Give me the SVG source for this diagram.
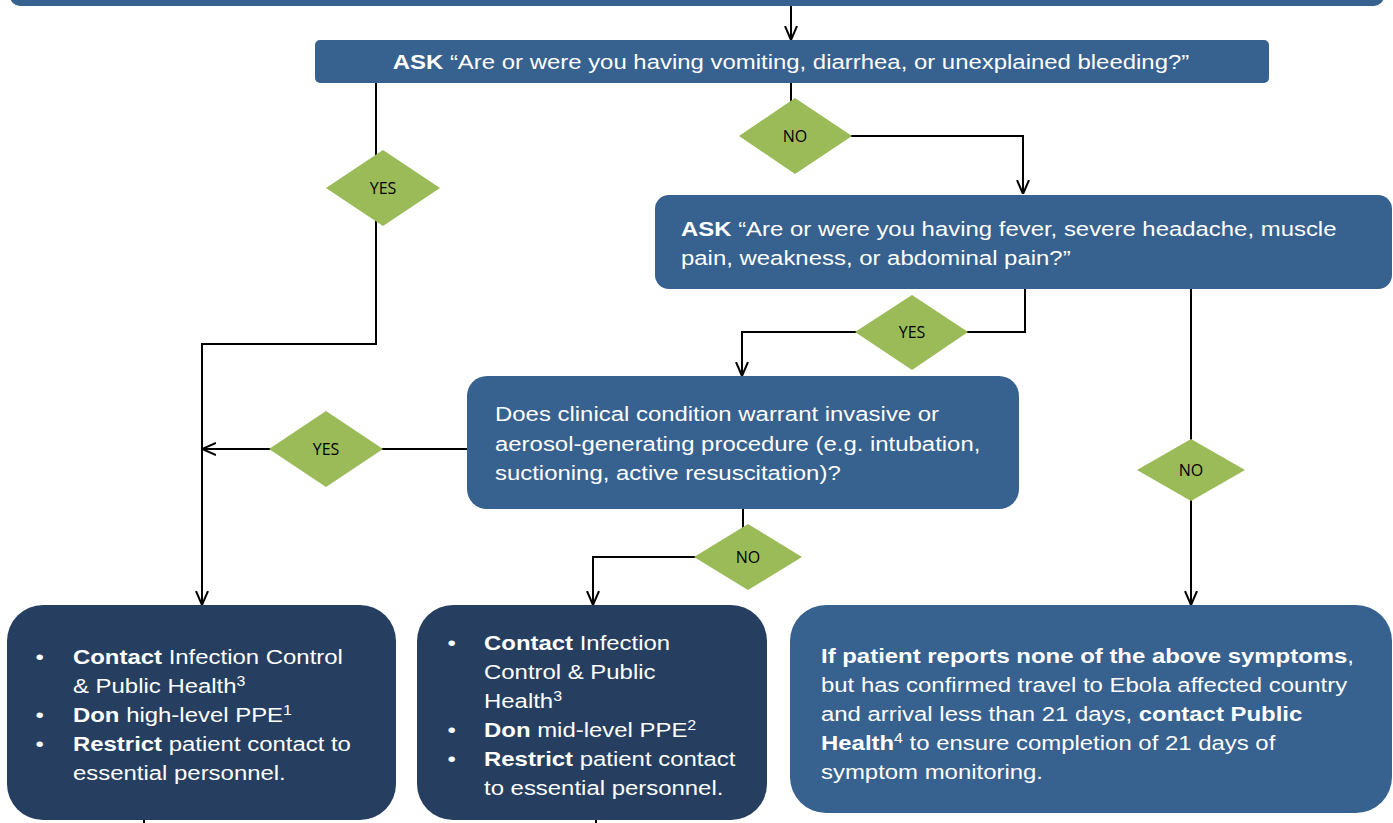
<svg xmlns="http://www.w3.org/2000/svg" width="1393" height="823" viewBox="0 0 1393 823">
<style>
.blue{fill:#37618F}
.dark{fill:#263F60}
.dia{fill:#9BBB59}
.t{font-family:"Liberation Sans",Arial,sans-serif;font-size:21px;fill:#FFFFFF}
.b{font-weight:bold}
.dl{font-family:"Open Sans","Liberation Sans",sans-serif;font-size:16px;fill:#000000;text-anchor:middle}
.c{fill:none;stroke:#000000;stroke-width:2}
.s{font-size:14px}
</style>
<defs>
<marker id="arr" viewBox="0 0 14 14" refX="14" refY="7" markerWidth="14" markerHeight="14" markerUnits="userSpaceOnUse" orient="auto">
<path d="M0,1 L14,7 L0,13" fill="none" stroke="#000000" stroke-width="2"/>
</marker>
</defs>
<rect width="1393" height="823" fill="#FFFFFF"/>
<g id="connectors">
<path class="c" d="M791,6 V40" marker-end="url(#arr)"/>
<path class="c" d="M376,83 V344 H202 V605" marker-end="url(#arr)"/>
<path class="c" d="M791,83 V136 H1023 V194" marker-end="url(#arr)"/>
<path class="c" d="M1025,289 V332 H742 V376" marker-end="url(#arr)"/>
<path class="c" d="M467,449 H202" marker-end="url(#arr)"/>
<path class="c" d="M743,509 V557 H593 V605" marker-end="url(#arr)"/>
<path class="c" d="M1191,289 V605" marker-end="url(#arr)"/>
<path class="c" d="M144,819 V823"/>
<path class="c" d="M596,819 V823"/>
</g>
<g id="top-bar"><rect class="blue" x="10" y="-30" width="1374" height="36" rx="10"/></g>
<g id="ask1">
<rect class="blue" x="315" y="40" width="954" height="43" rx="5"/>
<g transform="matrix(1.14,0,0,1,-110.74,0)">
<text class="t" x="791" y="69" text-anchor="middle"><tspan class="b">ASK</tspan> “Are or were you having vomiting, diarrhea, or unexplained bleeding?”</text>
</g>
</g>
<g id="ask2">
<rect class="blue" x="655" y="195" width="737" height="94" rx="14"/>
<g transform="matrix(1.14,0,0,1,-95.34,0)">
<text class="t" x="681" y="236"><tspan class="b">ASK</tspan> “Are or were you having fever, severe headache, muscle</text>
<text class="t" x="681" y="265">pain, weakness, or abdominal pain?”</text>
</g>
</g>
<g id="procedure">
<rect class="blue" x="467" y="376" width="552" height="133" rx="20"/>
<g transform="matrix(1.14,0,0,1,-69.3,0)">
<text class="t" x="495" y="421">Does clinical condition warrant invasive or</text>
<text class="t" x="495" y="451">aerosol-generating procedure (e.g. intubation,</text>
<text class="t" x="495" y="480">suctioning, active resuscitation)?</text>
</g>
</g>
<g id="yes1"><polygon class="dia" points="383,150 440,188 383,226 326,188"/><text class="dl" x="383" y="194">YES</text></g>
<g id="no1"><polygon class="dia" points="795,98 852,136 795,174 739,136"/><text class="dl" x="795" y="142">NO</text></g>
<g id="yes2"><polygon class="dia" points="912,295 968,332 912,370 855,332"/><text class="dl" x="912" y="338">YES</text></g>
<g id="yes3"><polygon class="dia" points="326,411 383,449 326,487 269,449"/><text class="dl" x="326" y="455">YES</text></g>
<g id="no2"><polygon class="dia" points="748,524 802,557 748,590 694,557"/><text class="dl" x="748" y="563">NO</text></g>
<g id="no3"><polygon class="dia" points="1191,439 1245,470 1191,501 1137,470"/><text class="dl" x="1191" y="476">NO</text></g>
<g id="high-ppe">
<rect class="dark" x="7" y="605" width="389" height="215" rx="36"/>
<g transform="matrix(1.14,0,0,1,-10.22,0)">
<text class="t" x="40" y="664">•</text>
<text class="t" x="73" y="664"><tspan class="b">Contact</tspan> Infection Control</text>
<text class="t" x="73" y="693">&amp; Public Health<tspan class="s" dy="-7">3</tspan></text>
<text class="t" x="40" y="722">•</text>
<text class="t" x="73" y="722"><tspan class="b">Don</tspan> high-level PPE<tspan class="s" dy="-7">1</tspan></text>
<text class="t" x="40" y="751">•</text>
<text class="t" x="73" y="751"><tspan class="b">Restrict</tspan> patient contact to</text>
<text class="t" x="73" y="780">essential personnel.</text>
</g>
</g>
<g id="mid-ppe">
<rect class="dark" x="417" y="605" width="350" height="215" rx="36"/>
<g transform="matrix(1.14,0,0,1,-67.76,0)">
<text class="t" x="452" y="650">•</text>
<text class="t" x="484" y="650"><tspan class="b">Contact</tspan> Infection</text>
<text class="t" x="484" y="679">Control &amp; Public</text>
<text class="t" x="484" y="708">Health<tspan class="s" dy="-7">3</tspan></text>
<text class="t" x="452" y="737">•</text>
<text class="t" x="484" y="737"><tspan class="b">Don</tspan> mid-level PPE<tspan class="s" dy="-7">2</tspan></text>
<text class="t" x="452" y="766">•</text>
<text class="t" x="484" y="766"><tspan class="b">Restrict</tspan> patient contact</text>
<text class="t" x="484" y="795">to essential personnel.</text>
</g>
</g>
<g id="monitoring">
<rect class="blue" x="790" y="605" width="602" height="208" rx="36"/>
<g transform="matrix(1.14,0,0,1,-114.94,0)">
<text class="t" x="821" y="663"><tspan class="b">If patient reports none of the above symptoms</tspan>,</text>
<text class="t" x="821" y="692">but has confirmed travel to Ebola affected country</text>
<text class="t" x="821" y="721">and arrival less than 21 days, <tspan class="b">contact Public</tspan></text>
<text class="t" x="821" y="750"><tspan class="b">Health</tspan><tspan class="s" dy="-7">4</tspan><tspan dy="7"> to ensure completion of 21 days of</tspan></text>
<text class="t" x="821" y="779">symptom monitoring.</text>
</g>
</g>
</svg>
